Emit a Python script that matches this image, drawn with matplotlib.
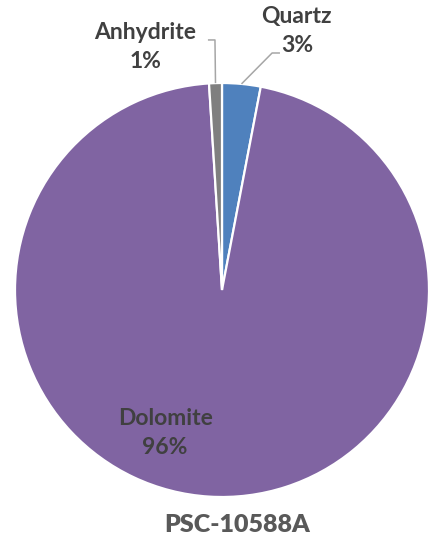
import matplotlib.pyplot as plt
import numpy as np

# Mineral composition of the sample (percent)
minerals = ['Quartz', 'Dolomite', 'Anhydrite']
percent = [3, 96, 1]
colors = ['#4F81BD', '#8064A2', '#7F7F7F']
sample_name = 'PSC-10588A'

TEXT_COLOR = '#404040'
LEADER_COLOR = '#A6A6A6'
FONT = 'Lato'

fig = plt.figure(figsize=(4.29, 5.5), dpi=100)
ax = fig.add_axes([0, 0, 1, 1])

# clockwise from 12 o'clock, like a spreadsheet pie
wedges, _ = ax.pie(percent, colors=colors, startangle=90, counterclock=False,
                   radius=1.0, wedgeprops={'edgecolor': 'white', 'linewidth': 1.6})

ax.set_xlim(-1.0725, 1.0)
ax.set_ylim(-1.256, 1.401)
ax.set_aspect('equal')
ax.axis('off')


def mid_point(w, r=1.0):
    ang = np.deg2rad((w.theta1 + w.theta2) / 2)
    return r * np.cos(ang), r * np.sin(ang)


# label text positions and leader elbows (outside labels only)
label_pos = {'Quartz': (0.362, 1.252), 'Anhydrite': (-0.372, 1.175), 'Dolomite': (-0.275, -0.692)}
elbows = {'Quartz': [(0.242, 1.145), (0.28, 1.145)],
          'Anhydrite': [(-0.034, 1.208), (-0.068, 1.208)]}

for w, name, p in zip(wedges, minerals, percent):
    if name in elbows:
        x0, y0 = mid_point(w, 1.0)
        pts = [(x0, y0)] + elbows[name]
        ax.plot([q[0] for q in pts], [q[1] for q in pts], color=LEADER_COLOR, lw=1.1,
                solid_capstyle='butt')
    lx, ly = label_pos[name]
    ax.text(lx, ly, f'{name}\n{p}%', ha='center', va='center', fontsize=16.5,
            fontweight='bold', color=TEXT_COLOR, family=FONT, linespacing=1.45)

ax.text(0.072, -1.135, sample_name, ha='center', va='center', fontsize=18,
        fontweight='heavy', color='#595959', family=FONT)

fig.savefig('out.png', dpi=100)
